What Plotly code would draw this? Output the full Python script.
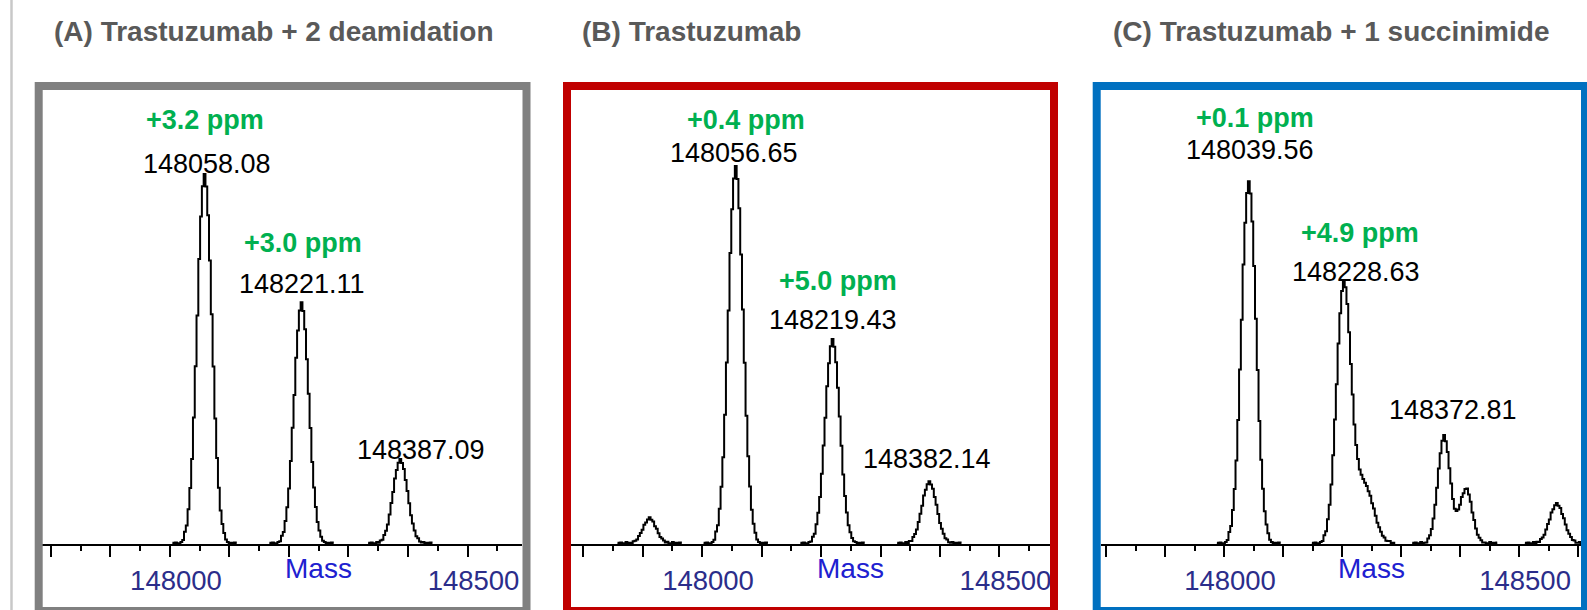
import numpy as np
import plotly.graph_objects as go

# ---------------- data ----------------
PANEL_TITLES = ["(A) Trastuzumab + 2 deamidation",
                "(B) Trastuzumab",
                "(C) Trastuzumab + 1 succinimide"]

# Peak list per panel: centre mass (Da), relative intensity (% of tallest peak), width factor
A_CENTERS = [148058.1, 148221.1, 148387.1]
A_HEIGHTS = [97.9, 63.8, 22.1]
A_WIDTHS = [1.0, 1.0, 1.0]

B_CENTERS = [147912.0, 148056.7, 148219.4, 148382.1]
B_HEIGHTS = [6.6, 100.0, 54.0, 16.2]
B_WIDTHS = [0.9, 1.0, 1.0, 1.0]

C_CENTERS = [148042.0, 148203.0, 148238.0, 148373.0, 148410.0, 148564.0]
C_HEIGHTS = [96.0, 68.4, 15.5, 28.5, 14.6, 10.4]
C_WIDTHS = [1.0, 1.0, 1.25, 0.85, 0.85, 1.0]

# Peak profile read from the tallest peak: offset from apex (Da) -> fraction of apex height
PROFILE_OFFSET = [0, 3, 6, 9, 12, 15, 18, 21, 24, 27, 30, 33, 36]
PROFILE_REL = [1.0, 0.97, 0.89, 0.77, 0.62, 0.48, 0.34, 0.23, 0.15, 0.09, 0.05, 0.03, 0.01]
BASELINE_NOISE = [0.3, 0.1, 0.4, 0.0, 0.2, 0.5, 0.1, 0.3, 0.0, 0.4, 0.2, 0.1, 0.35]

# Labels: (peak index, mass text, ppm text)
A_LABELS = [(0, "148058.08", "+3.2 ppm"), (1, "148221.11", "+3.0 ppm"), (2, "148387.09", None)]
B_LABELS = [(1, "148056.65", "+0.4 ppm"), (2, "148219.43", "+5.0 ppm"), (3, "148382.14", None)]
C_LABELS = [(0, "148039.56", "+0.1 ppm"), (1, "148228.63", "+4.9 ppm"), (3, "148372.81", None)]

MAJOR_TICKS = [147800, 147900, 148000, 148100, 148200, 148300, 148400, 148500, 148600]
MINOR_TICKS = [147750, 147850, 147950, 148050, 148150, 148250, 148350, 148450, 148550]
TICK_LABELS = {148000: "148000", 148500: "148500"}
AXIS_TITLE = "Mass"

# ---------------- layout geometry (pixels) ----------------
W, H = 1587, 610
FONT = "Arial, Liberation Sans, sans-serif"
GREEN = "#00b050"
NAVY = "#2b2d8a"
BLUE = "#2020d0"

panels = [
    dict(centers=A_CENTERS, heights=A_HEIGHTS, widths=A_WIDTHS, labels=A_LABELS,
         dom=(42.3, 522.0), rng=(147785.4, 148591.6), color="#808080",
         frame=(38.7, 526.5), title_x=52,
         mass_shift=[(2, 12), (0, 20), (21, 11)], ppm_shift=[(0, 56), (1, 61)]),
    dict(centers=B_CENTERS, heights=B_HEIGHTS, widths=B_WIDTHS, labels=B_LABELS,
         dom=(571.0, 1050.0), rng=(147779.8, 148584.9), color="#c00000",
         frame=(567.0, 1054.0), title_x=580,
         mass_shift=[(-2, 15), (0, 21), (-2, 24)], ppm_shift=[(10, 48), (5, 59.5)]),
    dict(centers=C_CENTERS, heights=C_HEIGHTS, widths=C_WIDTHS, labels=C_LABELS,
         dom=(1100.7, 1581.0), rng=(147791.0, 148605.0), color="#0070c0",
         frame=(1096.7, 1585.0), title_x=1111,
         mass_shift=[(3, 33.5), (-3, 15), (9, 27)], ppm_shift=[(8, 65.5), (1, 54)]),
]

Y_BOTTOM_PX, Y_TOP_PX = 544, 90
Y_MAX = 100 * (Y_BOTTOM_PX - Y_TOP_PX) / 376.0


def px(x):
    return x / W


def py(y):
    return 1 - y / H


def spectrum(centers, heights, widths):
    xs, ys = [], []
    order = np.argsort(centers)
    c = np.array(centers)[order]
    h = np.array(heights)[order]
    w = np.array(widths)[order]
    groups = [[0]]
    for i in range(1, len(c)):
        if c[i] - c[groups[-1][-1]] < 100:
            groups[-1].append(i)
        else:
            groups.append([i])
    for g in groups:
        gx = np.arange(c[g[0]] - 54, c[g[-1]] + 55, 3.0)
        gy = np.zeros_like(gx)
        for i in g:
            gy += h[i] * np.interp(np.abs(gx - c[i]) / w[i], PROFILE_OFFSET, PROFILE_REL, right=0.0)
        noise = np.array([BASELINE_NOISE[k % len(BASELINE_NOISE)] for k in range(len(gx))])
        gy = gy + noise
        xs += list(gx) + [None]
        ys += list(gy) + [None]
    return xs, ys


fig = go.Figure()
annotations = []
shapes = []

for k, p in enumerate(panels, start=1):
    xs, ys = spectrum(p["centers"], p["heights"], p["widths"])
    xa = "x" if k == 1 else f"x{k}"
    ya = "y" if k == 1 else f"y{k}"
    fig.add_trace(go.Scatter(x=xs, y=ys, mode="lines", xaxis=xa, yaxis=ya,
                             line=dict(color="black", width=2, shape="hvh"), hoverinfo="skip",
                             showlegend=False, cliponaxis=True))
    axn = "xaxis" if k == 1 else f"xaxis{k}"
    ayn = "yaxis" if k == 1 else f"yaxis{k}"
    fig.layout[axn] = dict(
        domain=[px(p["dom"][0]), px(p["dom"][1])], range=list(p["rng"]), anchor=ya,
        tickmode="array", tickvals=MAJOR_TICKS,
        ticktext=[TICK_LABELS.get(t, "") for t in MAJOR_TICKS],
        ticks="outside", ticklen=11, tickwidth=2, tickcolor="black",
        showline=True, linecolor="black", linewidth=2, showgrid=False, zeroline=False,
        tickfont=dict(family=FONT, size=27.5, color=NAVY),
        ticklabelshift=6, ticklabelstandoff=0,
        minor=dict(tickmode="array", tickvals=MINOR_TICKS, ticks="outside", ticklen=5,
                   tickwidth=2, tickcolor="black", showgrid=False),
        fixedrange=True,
    )
    fig.layout[ayn] = dict(domain=[py(Y_BOTTOM_PX), py(Y_TOP_PX)], range=[0, Y_MAX],
                           visible=False, anchor=xa, fixedrange=True)

    # peak labels
    ppm_i = 0
    for j, (pi, mtxt, ppm) in enumerate(p["labels"]):
        yv = p["heights"][pi]
        dx, dy = p["mass_shift"][j]
        annotations.append(dict(x=float(mtxt), y=yv, xref=xa, yref=ya, text=mtxt,
                                showarrow=False, xanchor="center", yanchor="middle",
                                xshift=dx, yshift=dy,
                                font=dict(family=FONT, size=27, color="black")))
        if ppm:
            pdx, pdy = p["ppm_shift"][ppm_i]
            ppm_i += 1
            annotations.append(dict(x=float(mtxt), y=yv, xref=xa, yref=ya, text=f"<b>{ppm}</b>",
                                    showarrow=False, xanchor="center", yanchor="middle",
                                    xshift=pdx, yshift=pdy,
                                    font=dict(family=FONT, size=27, color=GREEN)))
    # axis title "Mass"
    annotations.append(dict(x=148250, y=py(568), xref=xa, yref="paper", text=AXIS_TITLE,
                            showarrow=False, xanchor="center", yanchor="middle",
                            font=dict(family=FONT, size=28, color=BLUE)))
    # panel title
    annotations.append(dict(x=px(p["title_x"]), y=py(31), xref="paper", yref="paper",
                            text=f"<b>{PANEL_TITLES[k-1]}</b>", showarrow=False,
                            xanchor="left", yanchor="middle",
                            font=dict(family=FONT, size=28, color="#595959")))
    # frame
    shapes.append(dict(type="rect", xref="paper", yref="paper",
                       x0=px(p["frame"][0]), x1=px(p["frame"][1]), y0=py(611), y1=py(86),
                       line=dict(color=p["color"], width=8), fillcolor="rgba(0,0,0,0)",
                       layer="above"))

shapes.append(dict(type="line", xref="paper", yref="paper", x0=px(11.5), x1=px(11.5),
                   y0=0, y1=1, line=dict(color="#c8c8c8", width=2.5)))

fig.update_layout(width=W, height=H, margin=dict(l=0, r=0, t=0, b=0),
                  paper_bgcolor="white", plot_bgcolor="white",
                  annotations=annotations, shapes=shapes, showlegend=False)

fig.write_html("out.html", config=dict(displayModeBar=False),
               post_script="document.body.style.margin='0';document.body.style.overflow='hidden';")
